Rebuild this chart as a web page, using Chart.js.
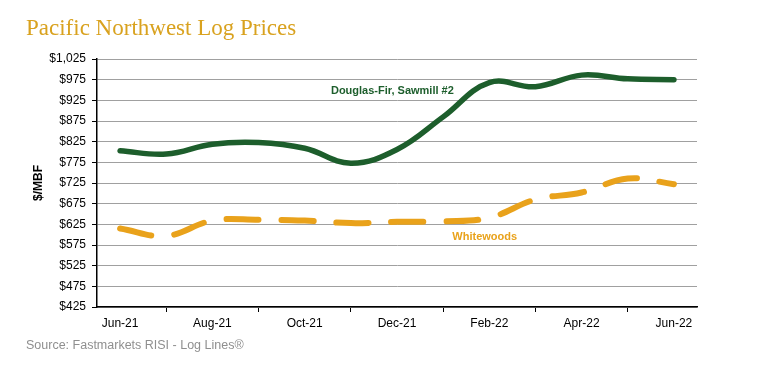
<!DOCTYPE html>
<html><head><meta charset="utf-8">
<script src="https://cdn.jsdelivr.net/npm/chart.js@4/dist/chart.umd.min.js"></script>
<style>
html,body{margin:0;padding:0;background:#fff;}
#wrap{position:relative;width:762px;height:374px;}
#title{position:absolute;left:26px;top:15px;font-family:"Liberation Serif",serif;font-size:23px;color:#D9A21F;white-space:nowrap;}
#src{position:absolute;left:26px;top:338px;font-family:"Liberation Sans",Arial,sans-serif;font-size:12.5px;color:#8f8f8f;white-space:nowrap;}
canvas{position:absolute;left:0;top:0;}
</style></head>
<body><div id="wrap">
<canvas id="c" width="762" height="374"></canvas>
<div id="title">Pacific Northwest Log Prices</div>
<div id="src">Source: Fastmarkets RISI - Log Lines®</div>
</div>
<script>
const months = ["Jun-21","Jul-21","Aug-21","Sep-21","Oct-21","Nov-21","Dec-21","Jan-22","Feb-22","Mar-22","Apr-22","May-22","Jun-22"];
const douglasFir = [803, 795, 819, 823, 809, 773, 806, 885, 968, 958, 986, 977, 975];
const whitewoods = [615, 597, 634, 636, 634, 628, 631, 632, 641, 685, 702, 736, 722];
const yTicks = [425,475,525,575,625,675,725,775,825,875,925,975,1025];
const seriesLabels = ["Douglas-Fir, Sawmill #2", "Whitewoods"];

const labelPlugin = {
  id:'seriesLabels',
  afterDatasetsDraw(chart){
    const {ctx, scales:{x,y}} = chart;
    ctx.save();
    ctx.font = 'bold 11px "Liberation Sans", Arial, sans-serif';
    ctx.textAlign='center'; ctx.textBaseline='middle';
    ctx.fillStyle='#1D5E2C';
    ctx.fillText(seriesLabels[0], x.getPixelForValue(5.9), y.getPixelForValue(948));
    ctx.fillStyle='#E9A21B';
    ctx.fillText(seriesLabels[1], x.getPixelForValue(7.9), y.getPixelForValue(594));
    ctx.restore();
  }
};

new Chart(document.getElementById('c'), {
  type:'line',
  data:{labels:months, datasets:[
    {label:seriesLabels[0], data:douglasFir, borderColor:'#1D5E2C', borderWidth:5.5, tension:0.4, pointRadius:0, borderCapStyle:'round', fill:false},
    {label:seriesLabels[1], data:whitewoods, borderColor:'#E9A21B', borderWidth:6, tension:0.4, pointRadius:0, borderCapStyle:'round', borderDash:[32,23], fill:false}
  ]},
  options:{
    responsive:false, animation:false,
    layout:{padding:{left:0,right:65,top:59,bottom:0}},
    plugins:{legend:{display:false}, tooltip:{enabled:false}, title:{display:false}},
    scales:{
      x:{
        type:'category', offset:true,
        grid:{offset:true, drawOnChartArea:false, color:'#000', tickLength:5, tickColor:'#000'},
        border:{color:'#000', width:1.5},
        ticks:{autoSkip:false, maxRotation:0, padding:4, color:'#000', font:{family:'"Liberation Sans", Arial, sans-serif', size:12},
          callback:function(v,i){ return i%2===0 ? months[i] : null; }},
        afterFit(s){ s.height = 67; }
      },
      y:{
        min:425, max:1025,
        afterBuildTicks(s){ s.ticks = yTicks.map(v=>({value:v})); },
        grid:{color:'#a0a0a0', borderDash:[1,1], lineWidth:1, tickLength:5, tickColor:'#000', tickBorderDash:[], tickWidth:1},
        border:{color:'#000', width:1.5},
        ticks:{padding:6, color:'#000', font:{family:'"Liberation Sans", Arial, sans-serif', size:12},
          callback:v=>'$'+v.toLocaleString('en-US')},
        title:{display:true, text:'$/MBF', color:'#000', font:{family:'"Liberation Sans", Arial, sans-serif', size:12, weight:'bold'}, padding:{top:31,bottom:0}},
        afterFit(s){ s.width = 97; }
      }
    }
  },
  plugins:[labelPlugin]
});
</script>
</body></html>
